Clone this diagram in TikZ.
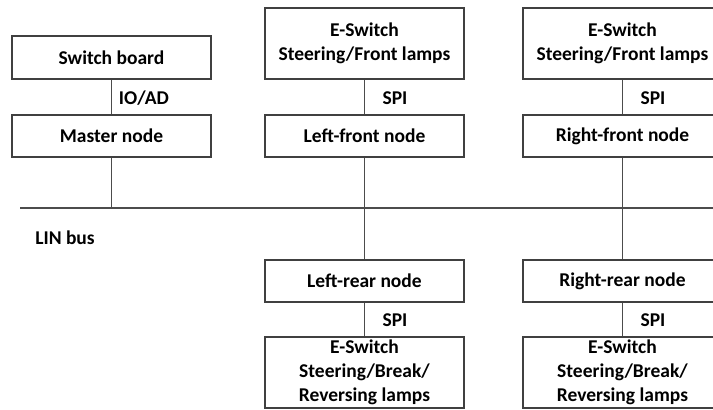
\documentclass[tikz,border=0pt]{standalone}
\usepackage{fontspec}
\setmainfont{Carlito}
\begin{document}
\begin{tikzpicture}[x=1pt,y=-1pt,
  box/.style={draw=black!75, line width=1.4pt, fill=white, minimum width=199pt, inner sep=0pt, align=center,
    font=\fontsize{19.5}{24}\selectfont\bfseries},
  one/.style={box, minimum height=42pt},
  two/.style={box, minimum height=71pt},
  lbl/.style={font=\fontsize{19.5}{22}\selectfont\bfseries, inner sep=0pt},
  wire/.style={draw=black!70, line width=1.4pt}]
\useasboundingbox (0,0) rectangle (713,410);
\clip (0,0) rectangle (713,410);
% nodes
\node[one, minimum height=43pt] (sw) at (111.5,57.5) {Switch board};
\node[one] (master) at (111.5,136) {Master node};
\node[two] (lfe) at (364.5,43.5) {E-Switch\\Steering/Front lamps};
\node[one] (lf) at (364.5,136) {Left-front node};
\node[one] (lr) at (364.5,281) {Left-rear node};
\node[two] (lre) at (364.5,372.5) {E-Switch\\Steering/Break/\\Reversing lamps};
\node[two] (rfe) at (622.5,43.5) {E-Switch\\Steering/Front lamps};
\node[one] (rf) at (622.5,136) {Right-front node};
\node[one] (rr) at (622.5,281) {Right-rear node};
\node[two] (rre) at (622.5,372.5) {E-Switch\\Steering/Break/\\Reversing lamps};
% bus
\coordinate (busL) at (20,208);
\coordinate (busR) at (720,208);
\draw[wire] (busL) -- (busR);
\coordinate (mb) at (master.south |- busL);
% connectors
\draw[wire] (sw.south) -- (master.north);
\draw[wire] (master.south) -- (mb);
\draw[wire] (lfe.south) -- (lf.north);
\draw[wire] (lf.south) -- (lr.north);
\draw[wire] (lr.south) -- (lre.north);
\draw[wire] (rfe.south) -- (rf.north);
\draw[wire] (rf.south) -- (rr.north);
\draw[wire] (rr.south) -- (rre.north);
% labels
\node[lbl] (ioad) at (144,98) {IO/AD};
\node[lbl] (spi1) at (395,98) {SPI};
\node[lbl] (spi2) at (653,98) {SPI};
\node[lbl] (spi3) at (395,320) {SPI};
\node[lbl] (spi4) at (653,320) {SPI};
\node[lbl] (lin) at (65,238) {LIN bus};
\end{tikzpicture}
\end{document}
